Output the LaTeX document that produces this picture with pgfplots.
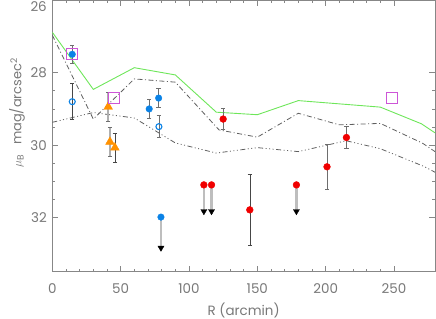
\documentclass[border=0pt]{standalone}
\usepackage{fontspec}
\setmainfont{Poppins}
\usepackage{pgfplots}
\pgfplotsset{compat=1.18}
\definecolor{axgray}{RGB}{135,135,135}
\definecolor{txtgray}{RGB}{120,120,120}
\definecolor{ebgray}{RGB}{110,110,110}
\definecolor{ebdark}{RGB}{70,70,70}
\definecolor{ebthick}{RGB}{175,175,175}
\definecolor{limgray}{RGB}{190,190,190}
\definecolor{mblue}{RGB}{10,130,230}
\definecolor{mred}{RGB}{240,0,0}
\definecolor{morange}{RGB}{255,145,0}
\definecolor{mmag}{RGB}{205,85,215}
\definecolor{mgreen}{RGB}{110,230,90}
\definecolor{mdash}{RGB}{95,95,95}
\begin{document}
\begin{tikzpicture}
\begin{axis}[
  at={(0,0)}, anchor=south west,
  scale only axis, width=382.7bp, height=271.3bp,
  xmin=0, xmax=280, ymin=26, ymax=33.5, y dir=reverse,
  xtick={0,50,...,250}, minor x tick num=4,
  ytick={28,30,32},
  extra y ticks={26},
  extra y tick style={yticklabel style={yshift=-6.5bp}},
  minor y tick num=3,
  tick align=inside, major tick length=6bp, minor tick length=3bp,
  axis line style={axgray, line width=0.8bp},
  tick style={axgray, line width=0.7bp},
  /pgf/number format/assume math mode=true,
  ticklabel style={font=\fontsize{13.5}{14}\selectfont, text=txtgray},
  xticklabel style={yshift=-8bp},
  yticklabel style={xshift=-2bp},
  xlabel={R (arcmin)},
  xlabel style={at={(axis description cs:0.5,0)}, anchor=center, yshift=-38.5bp, font=\fontsize{13.5}{14}\selectfont, text=txtgray},
  ylabel={$\mu_{\mathrm{B}}$\hspace{10bp}mag/arcsec\textsuperscript{2}},
  ylabel style={at={(axis description cs:-0.092,0.585)}, anchor=center, font=\fontsize{13}{14}\selectfont, text=txtgray},
  clip=true,
]
% model lines
\addplot[mgreen, line width=0.9bp, no markers] table {
0 26.88
30 28.46
60 27.86
90 28.06
120 29.09
150 29.16
180 28.77
240 28.95
270 29.41
280 29.66
};
\addplot[mdash, line width=0.8bp, no markers, dash pattern=on 5bp off 2.5bp on 1bp off 2.5bp] table {
0 26.96
30 29.28
60 28.17
90 28.26
122 29.58
150 29.78
180 29.12
210 29.44
240 29.40
271 29.95
280 30.18
};
\addplot[mdash, line width=0.8bp, no markers, dash pattern=on 5bp off 2.5bp on 1bp off 2.5bp on 1bp off 2.5bp on 1bp off 2.5bp] table {
0 29.37
30 29.10
60 29.25
90 29.94
120 30.22
150 30.07
180 30.18
215 29.88
240 30.10
272 30.59
280 30.75
};
% error bars (thin gray)
\addplot[draw=none, mark=none, forget plot,
  error bars/.cd, y dir=both, y explicit,
  error bar style={draw=ebgray, line width=0.6bp},
  error mark options={draw=ebgray, rotate=90, mark size=2.2bp, line width=0.6bp}]
  table[x=x, y=y, y error=e] {
x y e
14.6 27.49 0.26
70.9 29.00 0.26
77.8 28.70 0.26
78.0 29.49 0.30
125.0 29.28 0.29
201.0 30.60 0.62
215.2 29.79 0.30
};
% error bars (dark)
\addplot[draw=none, mark=none, forget plot,
  error bars/.cd, y dir=both, y explicit,
  error bar style={draw=ebdark, line width=0.6bp},
  error mark options={draw=ebdark, rotate=90, mark size=2.2bp, line width=0.6bp}]
  table[x=x, y=y, y error=e] {
x y e
14.6 28.80 0.50
45.8 30.07 0.40
144.5 31.79 0.99
};
% error bars (thick light)
\addplot[draw=none, mark=none, forget plot,
  error bars/.cd, y dir=both, y explicit,
  error bar style={draw=ebthick, line width=2bp},
  error mark options={draw=ebgray, rotate=90, mark size=2.2bp, line width=0.6bp}]
  table[x=x, y=y, y error=e] {
x y e
40.9 28.94 0.40
42.2 29.91 0.40
};
% lower limits: shafts
\addplot[draw=none, mark=none, forget plot,
  error bars/.cd, y dir=plus, y explicit,
  error bar style={draw=limgray, line width=2.4bp},
  error mark=none]
  table[x=x, y=y, y error=v] {
x y v
110.9 31.10 0.73
116.5 31.10 0.73
178.6 31.10 0.73
79.5 31.99 0.85
};
% lower limits: arrow heads
\addplot[only marks, forget plot, mark=triangle*, mark size=3.5bp,
  mark options={rotate=180, fill=black, draw=black}] table {
79.5 32.84
110.9 31.83
116.5 31.83
178.6 31.83
};
% blue filled
\addplot[only marks, mark=*, mark size=3.3bp, mark options={fill=mblue, draw=mblue}] table {
14.6 27.49
70.9 29.00
77.8 28.70
79.5 31.99
};
% blue open
\addplot[only marks, mark=o, mark size=3bp, mark options={draw=mblue, fill=white, line width=1.1bp}] table {
14.6 28.80
78.0 29.49
};
% orange triangles
\addplot[only marks, mark=triangle*, mark size=5bp, mark options={fill=morange, draw=morange}] table {
40.9 28.94
42.2 29.91
45.8 30.07
};
% red
\addplot[only marks, mark=*, mark size=3.4bp, mark options={fill=mred, draw=mred}] table {
125.0 29.28
110.9 31.10
116.5 31.10
144.5 31.79
178.6 31.10
201.0 30.60
215.2 29.79
};
% magenta squares
\addplot[only marks, mark=square, mark size=5.5bp, mark options={draw=mmag, line width=1.2bp}] table {
14.6 27.49
45.3 28.69
248.8 28.69
};
\end{axis}
\pgfresetboundingbox
\path (-52.3bp,-47.3bp) rectangle (383.7bp,271.7bp);
\end{tikzpicture}
\end{document}
